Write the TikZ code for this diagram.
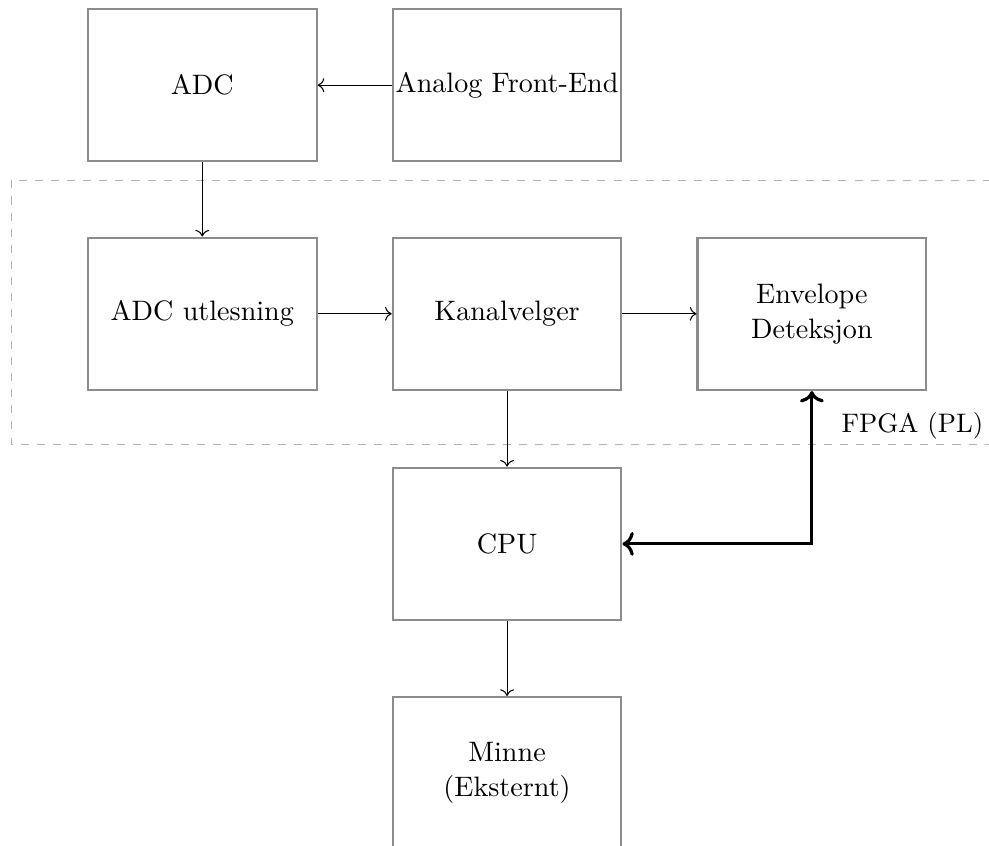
\documentclass[tikz,border=0pt]{standalone}
\usetikzlibrary{arrows.meta}
\tikzset{
  blk/.style={draw=gray!90, thick, minimum width=3cm, minimum height=2cm, align=center, inner xsep=0.5pt, inner ysep=2pt, font=\fontsize{10.5}{13}\selectfont},
  conn/.style={->, black, thin},
  bus/.style={<->, black, very thick},
  region/.style={draw=gray!60, dashed, thin}
}
\begin{document}
\begin{tikzpicture}
\useasboundingbox (-2.655,1.118) rectangle (10.325,-9.98);
\draw[region] (-2.5,-1.25) rectangle (11,-4.72);
\node[blk] (adc) at (0,0) {ADC};
\node[blk] (afe) at (4,0) {Analog Front-End};
\node[blk] (rd) at (0,-3) {ADC utlesning};
\node[blk] (kv) at (4,-3) {Kanalvelger};
\node[blk] (env) at (8,-3) {Envelope\\Deteksjon};
\node[blk] (cpu) at (4,-6.02) {CPU};
\node[blk] (mem) at (4,-9.03) {Minne\\(Eksternt)};
\node (fpga) at (9.32,-4.47) {FPGA (PL)};
\draw[conn] (afe) -- (adc);
\draw[conn] (adc) -- (rd);
\draw[conn] (rd) -- (kv);
\draw[conn] (kv) -- (env);
\draw[conn] (kv) -- (cpu);
\draw[conn] (cpu) -- (mem);
\draw[bus] (env.south) |- (cpu.east);
\end{tikzpicture}
\end{document}
